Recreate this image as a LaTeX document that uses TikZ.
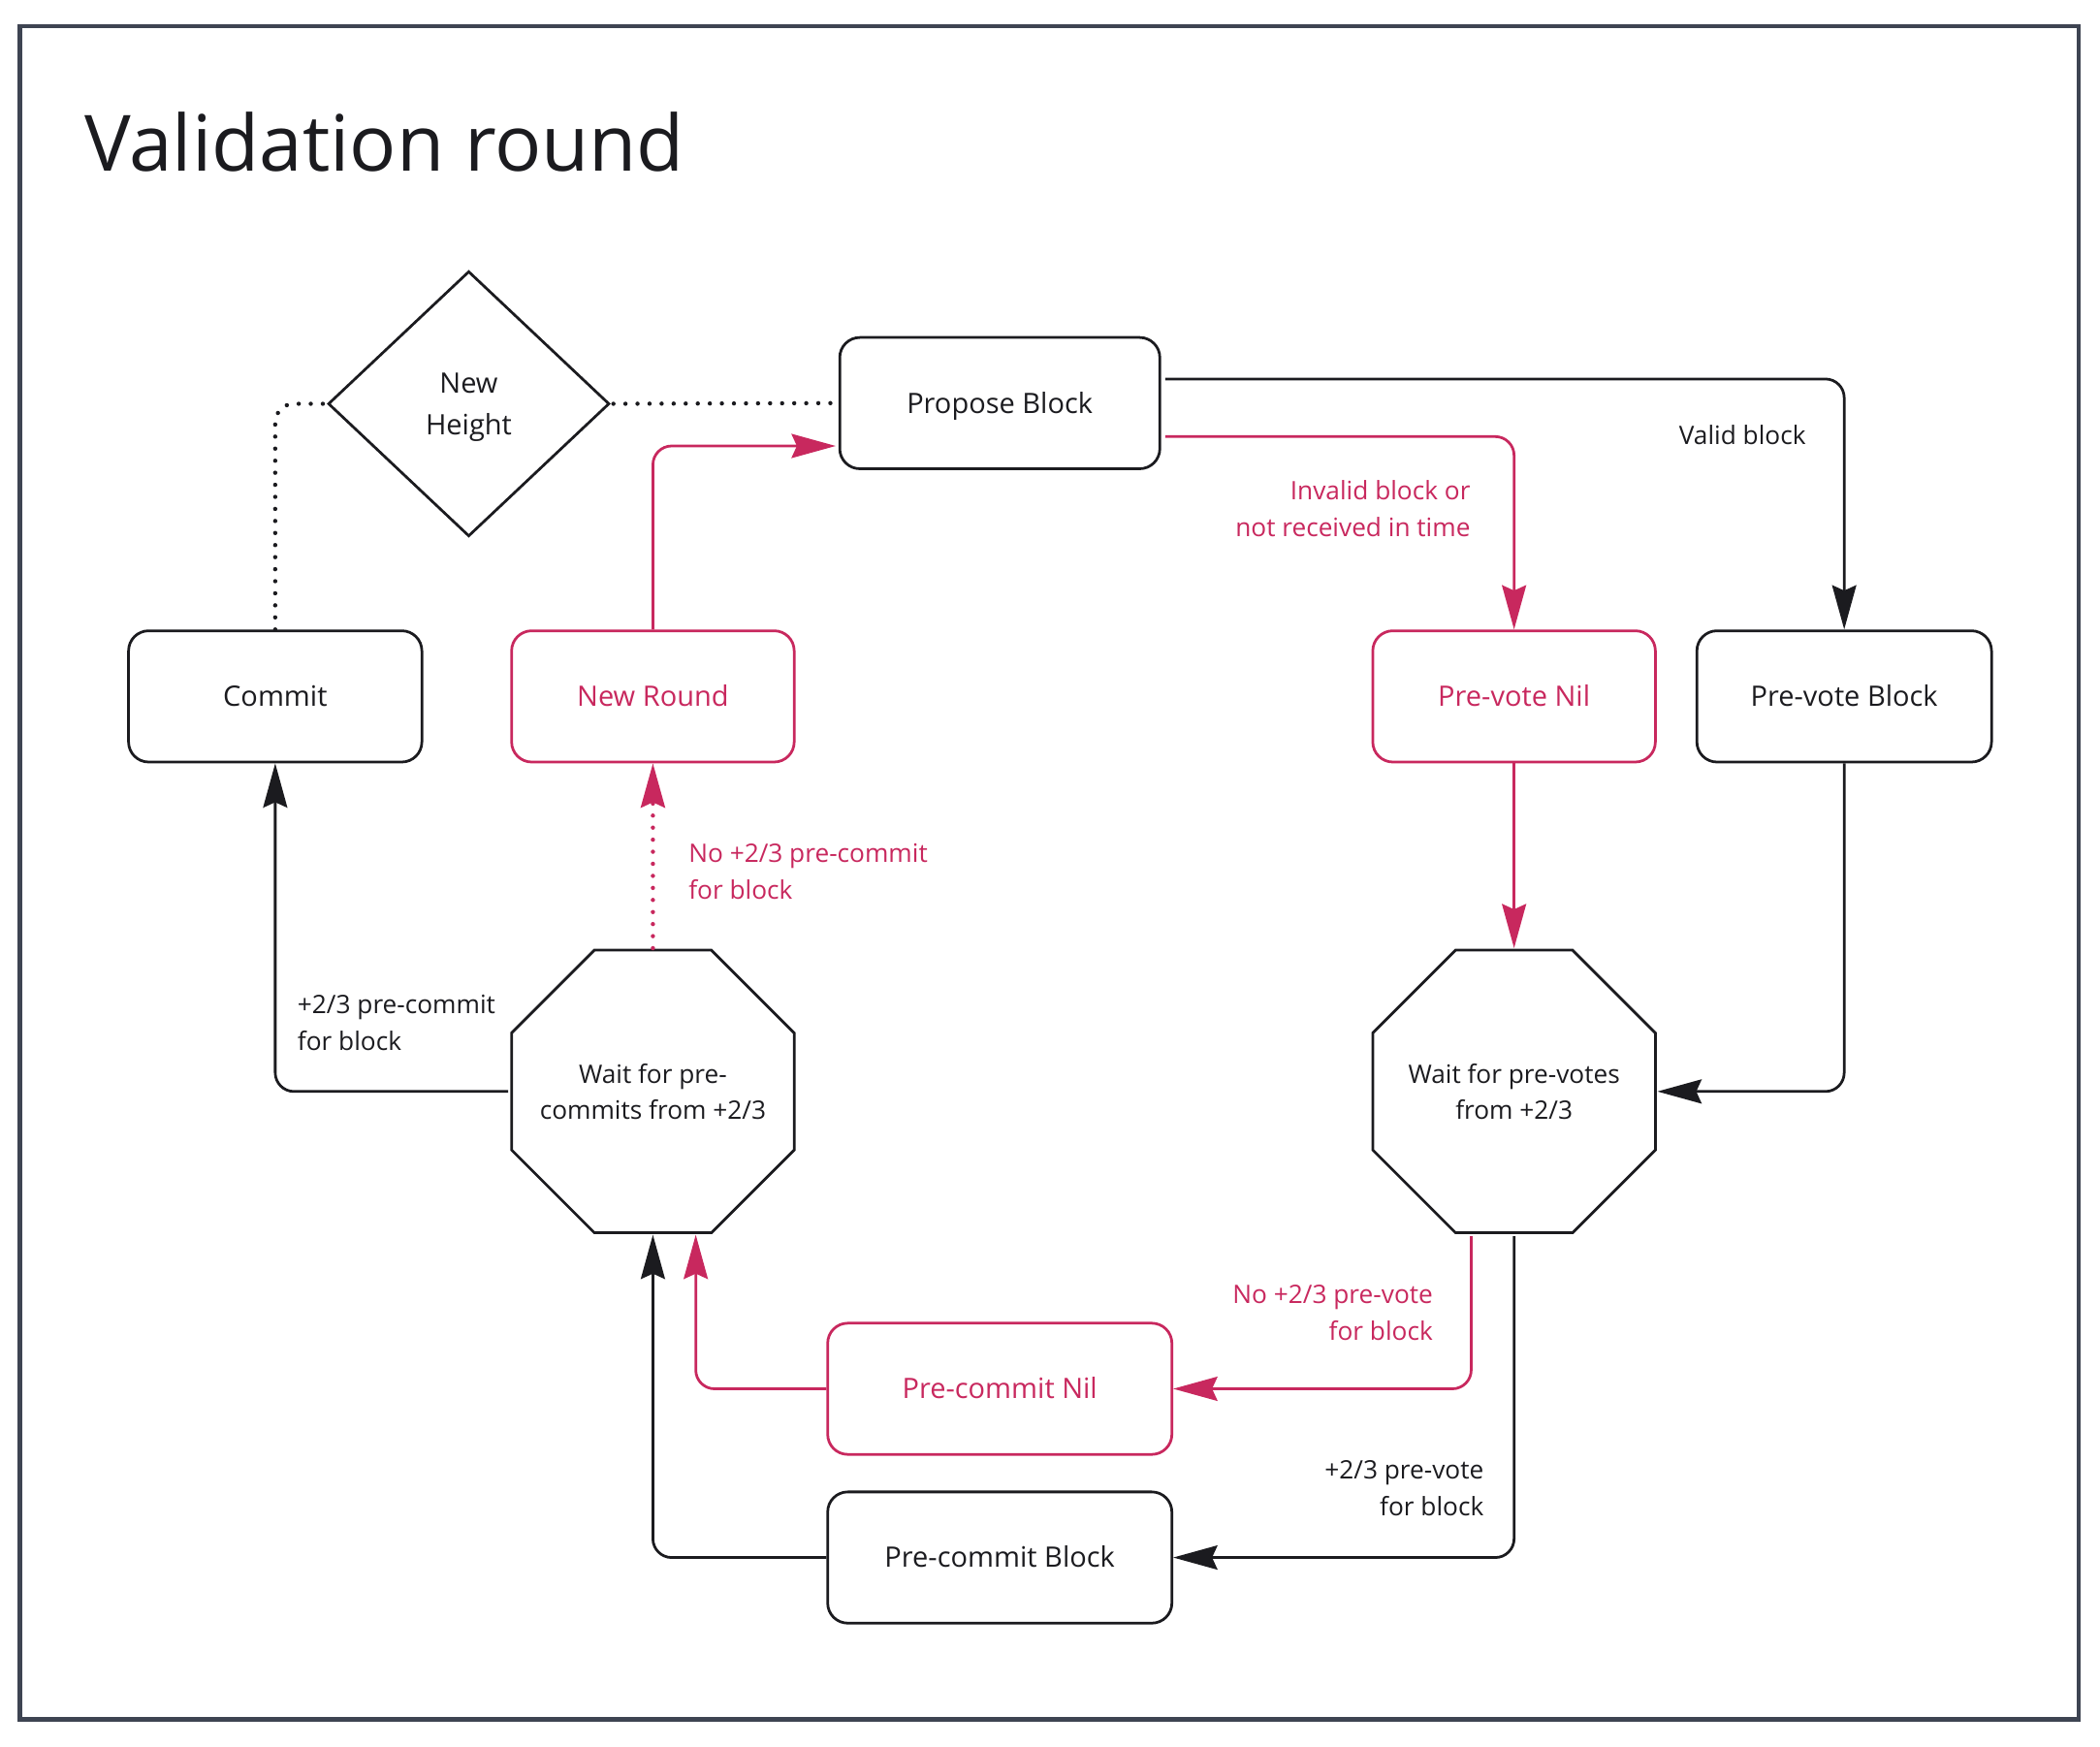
\documentclass[tikz,border=0pt]{standalone}
\usepackage{fontspec}
\setmainfont{Open Sans}
\usetikzlibrary{shapes.geometric,arrows.meta,calc}
\definecolor{ink}{HTML}{1B1B1F}
\definecolor{crim}{HTML}{C8285E}
\definecolor{framecol}{HTML}{3E4452}
\begin{document}
\begin{tikzpicture}[x=1pt,y=-1pt,
  rbox/.style={draw=ink, line width=2pt, rounded corners=15pt, minimum height=98pt, inner sep=0pt, text height=15pt, text depth=0pt, font=\fontsize{21}{30}\selectfont, text=ink},
  redbox/.style={rbox, draw=crim, text=crim},
  octtext/.style={inner sep=0pt, minimum width=211pt, minimum height=211pt, align=center, font=\fontsize{19}{27}\selectfont, text=ink},
  octline/.style={draw=ink, line width=2pt, line join=miter},
  lbl/.style={inner sep=0pt, font=\fontsize{19}{27.5}\selectfont, text=ink},
  redlbl/.style={lbl, text=crim},
  conn/.style={draw=ink, line width=2pt, rounded corners=14pt},
  redconn/.style={conn, draw=crim},
  arrowhd/.style={-{Stealth[length=33pt,width=18pt,inset=4pt]}},
  dotline/.style={line width=3.2pt, line cap=round, dash pattern=on 0pt off 9pt}
]
\useasboundingbox (0,0) rectangle (1568,1304);
\draw[framecol, line width=3.5pt] (15,19.5) rectangle (1552,1284);
\node[anchor=base west, inner sep=0pt, font=\fontsize{58}{70}\selectfont, text=ink] (title) at (63,128) {Validation round};

\node[rbox, minimum width=239pt] (pb) at (746.5,301) {Propose Block};
\node[draw=ink, line width=2pt, diamond, minimum width=210pt, minimum height=198pt, inner sep=0pt, align=center, text depth=0pt, font=\fontsize{21}{31}\selectfont, text=ink] (nh) at (350,301.5) {New\\Height};
\node[rbox, minimum width=219pt] (cm) at (205.5,520) {Commit};
\node[redbox, minimum width=211pt] (nr) at (487.5,520) {New Round};
\node[redbox, minimum width=211pt] (pvn) at (1130.5,520) {Pre-vote Nil};
\node[rbox, minimum width=220pt] (pvb) at (1377,520) {Pre-vote Block};
\node[octtext] (wc) at (487.5,815) {Wait for pre-\\commits from +2/3};
\node[octtext] (wv) at (1130.5,815) {Wait for pre-votes\\from +2/3};
\draw[octline, shift={(wc.center)}] (-43.7,-105.5) -- (43.7,-105.5) -- (105.5,-43.7) -- (105.5,43.7) -- (43.7,105.5) -- (-43.7,105.5) -- (-105.5,43.7) -- (-105.5,-43.7) -- cycle;
\draw[octline, shift={(wv.center)}] (-43.7,-105.5) -- (43.7,-105.5) -- (105.5,-43.7) -- (105.5,43.7) -- (43.7,105.5) -- (-43.7,105.5) -- (-105.5,43.7) -- (-105.5,-43.7) -- cycle;
\node[redbox, minimum width=257pt] (pcn) at (746.5,1037) {Pre-commit Nil};
\node[rbox, minimum width=257pt] (pcb) at (746.5,1163) {Pre-commit Block};

% dotted links
\draw[conn, dotline] (cm.north) |- (nh.west);
\draw[conn, dotline] ($(nh.east)+(2,0)$) -- (pb.west);

% propose -> pre-vote block
\draw[conn, arrowhd] ($(pb.east)+(3,-18)$) -| (pvb.north);
\node[lbl] (lvalid) at (1301,325) {Valid block};

% propose -> pre-vote nil
\draw[redconn, arrowhd] ($(pb.east)+(3,25)$) -| (pvn.north);
\node[redlbl, anchor=east, align=right] (linv) at (1098,380) {Invalid block or\\not received in time};

% new round -> propose
\draw[redconn, arrowhd] (nr.north) |- ($(pb.west)+(-2,32)$);

% pre-vote nil -> wait votes
\draw[redconn, arrowhd] (pvn.south) -- ($(wv.center)+(0,-107)$);

% pre-vote block -> wait votes
\draw[conn, arrowhd] (pvb.south) |- ($(wv.center)+(107,0)$);

% wait votes -> pre-commit nil
\draw[redconn, arrowhd] ($(wv.center)+(-32,108)$) |- (pcn.east);
\node[redlbl, anchor=east, align=right] (lnpv) at (1070,980) {No +2/3 pre-vote\\for block};

% wait votes -> pre-commit block
\draw[conn, arrowhd] ($(wv.center)+(0,108)$) |- (pcb.east);
\node[lbl, anchor=east, align=right] (lpv) at (1108,1111) {+2/3 pre-vote\\for block};

% pre-commit nil -> wait commits
\draw[redconn, arrowhd] (pcn.west) -| ($(wc.center)+(32,107)$);
% pre-commit block -> wait commits
\draw[conn, arrowhd] (pcb.west) -| ($(wc.center)+(0,107)$);

% wait commits -> new round
\draw[redconn, dotline, arrowhd] ($(wc.center)+(0,-107)$) -- (nr.south);
\node[redlbl, anchor=west, align=left] (lnpc) at (514,651) {No +2/3 pre-commit\\for block};

% wait commits -> commit
\draw[conn, arrowhd] ($(wc.center)+(-108,0)$) -| (cm.south);
\node[lbl, anchor=west, align=left] (lpc) at (222,764) {+2/3 pre-commit\\for block};
\end{tikzpicture}
\end{document}
